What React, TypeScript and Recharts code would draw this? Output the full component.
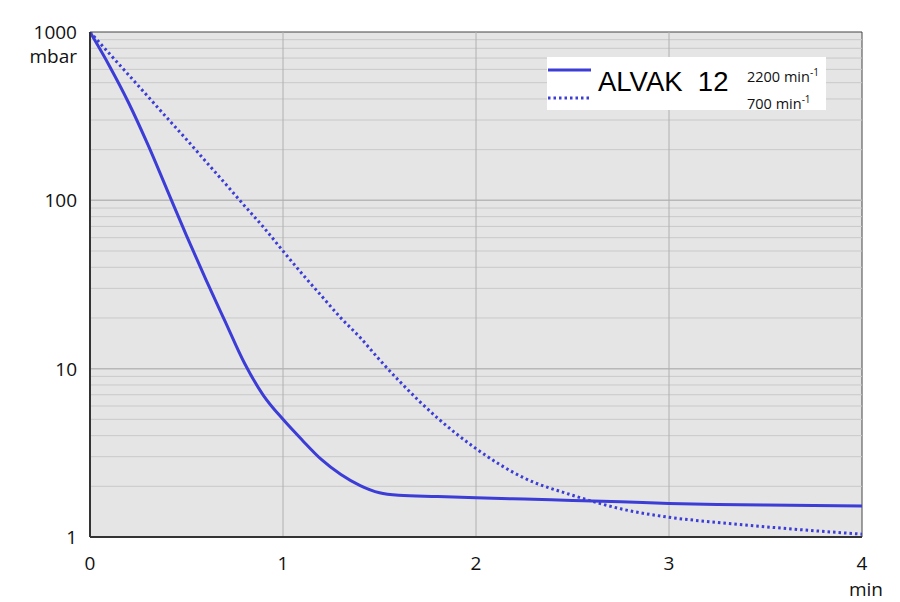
import React from "react";
import {
  LineChart, Line, XAxis, YAxis, CartesianGrid, ReferenceLine, ReferenceArea,
} from "recharts";

const times = [0, 0.1, 0.2, 0.3, 0.4, 0.5, 0.6, 0.7, 0.8, 0.9, 1.0, 1.1, 1.2, 1.3, 1.4, 1.5, 1.6, 1.8, 2.0, 2.25, 2.5, 2.75, 3.0, 3.25, 3.5, 3.75, 4.0];
// 2200 min-1 (solid)
const fastSpeed = [1000, 631, 380, 214, 115, 61.7, 33.9, 19.1, 10.8, 6.9, 5.0, 3.76, 2.88, 2.35, 2.02, 1.83, 1.77, 1.74, 1.71, 1.68, 1.65, 1.62, 1.58, 1.56, 1.55, 1.54, 1.53];
// 700 min-1 (dotted)
const slowSpeed = [1000, 745, 556, 414, 308, 230, 170, 126, 93, 69, 50, 36.5, 27, 20, 15.3, 11.3, 8.5, 5.1, 3.35, 2.24, 1.77, 1.47, 1.31, 1.22, 1.15, 1.09, 1.04];

const xTicks = [0, 1, 2, 3, 4];
const yTicks = [1, 10, 100, 1000];
const minorGrid = [2, 3, 4, 5, 6, 7, 8, 9, 20, 30, 40, 50, 60, 70, 80, 90, 200, 300, 400, 500, 600, 700, 800, 900];
const decadeGrid = [10, 100];
const verticalGrid = [1, 2, 3];

const data = times.map((t, i) => ({ t, fast: fastSpeed[i], slow: slowSpeed[i] }));

const BLUE = "#3c3cd6";
const FONT = "'Open Sans', sans-serif";

const YTick = ({ x, y, payload }: any) => (
  <g>
    <text x={x} y={y} textAnchor="end" dominantBaseline="central" fontFamily={FONT} fontSize={19} fill="#111">
      {payload.value}
    </text>
    {payload.value === 1000 && (
      <text x={x} y={y + 24} textAnchor="end" dominantBaseline="central" fontFamily={FONT} fontSize={19} fill="#111">
        mbar
      </text>
    )}
  </g>
);

const XTick = ({ x, y, payload }: any) => (
  <g>
    <text x={x} y={y} textAnchor="middle" dominantBaseline="central" fontFamily={FONT} fontSize={19} fill="#111">
      {payload.value}
    </text>
    {payload.value === 4 && (
      <text x={x + 4} y={y + 26} textAnchor="middle" dominantBaseline="central" fontFamily={FONT} fontSize={19} fill="#111">
        min
      </text>
    )}
  </g>
);

// legend box drawn on top of the chart
const LegendBox = () => (
  <div style={{ position: "absolute", left: 547, top: 57, background: "#fff", width: 279, height: 53, fontFamily: FONT }}>
    <svg width={50} height={53} style={{ position: "absolute", left: 0, top: 0 }}>
      <line x1={1} x2={44} y1={13} y2={13} stroke={BLUE} strokeWidth={3} />
      <line x1={1} x2={44} y1={41} y2={41} stroke={BLUE} strokeWidth={3} strokeDasharray="2.5 3" />
    </svg>
    <div style={{ position: "absolute", left: 51, top: 9, fontFamily: "'Liberation Sans', Arial, sans-serif", fontSize: 27.5, lineHeight: "32px", color: "#000", whiteSpace: "pre" }}>
      {"ALVAK  12"}
    </div>
    <div style={{ position: "absolute", left: 200, top: 7, fontSize: 14.5, color: "#111", lineHeight: "16px", whiteSpace: "pre" }}>
      2200 min<sup style={{ fontSize: 10, verticalAlign: 6 }}>-1</sup>
    </div>
    <div style={{ position: "absolute", left: 200, top: 34, fontSize: 14.5, color: "#111", lineHeight: "16px", whiteSpace: "pre" }}>
      700 min<sup style={{ fontSize: 10, verticalAlign: 6 }}>-1</sup>
    </div>
  </div>
);

export default function App() {
  return (
    <div style={{ position: "absolute", left: 0, top: 0, width: 900, height: 602, background: "#fff" }}>
      <LineChart width={900} height={602} data={data} margin={{ top: 32, right: 38, bottom: 35, left: 30 }}>
        <CartesianGrid fill="#e5e5e5" horizontal={false} vertical={false} />
        {minorGrid.map((v) => (
          <ReferenceLine key={"m" + v} y={v} stroke="#c9c9c9" strokeWidth={1} />
        ))}
        {decadeGrid.map((v) => (
          <ReferenceLine key={"d" + v} y={v} stroke="#b8b8b8" strokeWidth={1.5} />
        ))}
        {verticalGrid.map((v) => (
          <ReferenceLine key={"v" + v} x={v} stroke="#b0b0b0" strokeWidth={1} />
        ))}
        <ReferenceArea x1={0} x2={4} y1={1} y2={1000} fill="none" stroke="#444" strokeWidth={1} />
        <XAxis
          dataKey="t" type="number" domain={[0, 4]} ticks={xTicks}
          axisLine={{ stroke: "#333", strokeWidth: 2 }} tickLine={false} tickSize={0} tickMargin={26}
          tick={<XTick />} height={30} interval={0}
        />
        <YAxis
          type="number" scale="log" domain={[1, 1000]} ticks={yTicks} allowDataOverflow
          axisLine={{ stroke: "#333", strokeWidth: 2 }} tickLine={false} tickSize={0} tickMargin={13}
          tick={<YTick />} width={60} interval={0}
        />
        <Line type="monotone" dataKey="slow" stroke={BLUE} strokeWidth={3} strokeDasharray="2.5 3" dot={false} isAnimationActive={false} />
        <Line type="monotone" dataKey="fast" stroke={BLUE} strokeWidth={3} dot={false} isAnimationActive={false} />
      </LineChart>
      <LegendBox />
    </div>
  );
}
